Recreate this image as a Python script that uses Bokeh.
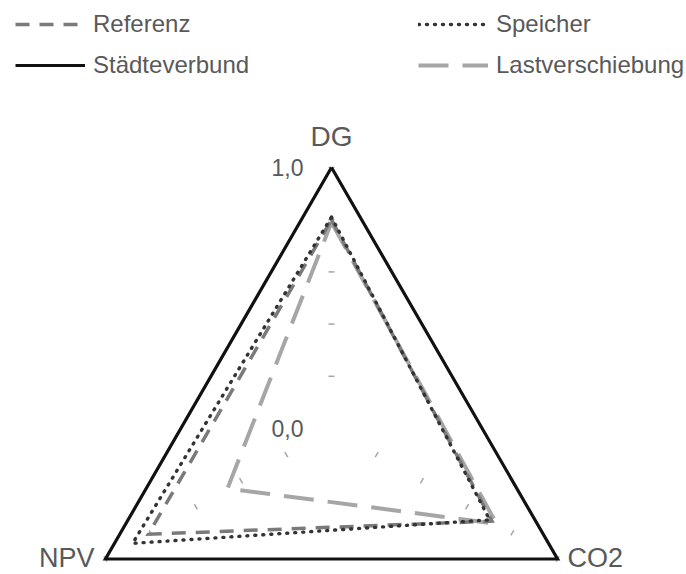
import numpy as np
from bokeh.plotting import figure
from bokeh.models import Range1d, Legend, LegendItem
from bokeh.core.properties import value
from bokeh.embed import file_html
from bokeh.resources import INLINE

# ---- data ----
axes_labels = ["DG", "CO2", "NPV"]
axes_angles_deg = [90, -30, 210]
referenz = [0.80, 0.71, 0.81]
speicher = [0.81, 0.70, 0.88]
staedteverbund = [1.0, 1.0, 1.0]
lastverschiebung = [0.79, 0.73, 0.46]
tick_values = [0.2, 0.4, 0.6, 0.8, 1.0]
tick_labels = {"1,0": 1.0, "0,0": 0.0}

FONT = "Liberation Sans"
TXT = "#595959"

W, H = 686, 574
scale = 261.0
cx, cy = 331.0, 428.0  # centre in frame pixels

p = figure(width=W, height=H, output_backend="svg", toolbar_location=None,
           x_range=Range1d(-cx / scale, (W - cx) / scale),
           y_range=Range1d(-(H - cy) / scale, cy / scale),
           min_border=0)
p.axis.visible = False
p.grid.visible = False
p.outline_line_color = None
p.background_fill_color = None
p.border_fill_color = "white"

ang = np.radians(np.array(axes_angles_deg, dtype=float))


def poly(vals):
    v = np.array(vals, dtype=float)
    xs = list(v * np.cos(ang)) + [v[0] * np.cos(ang[0])]
    ys = list(v * np.sin(ang)) + [v[0] * np.sin(ang[0])]
    return xs, ys


# tick marks (short, perpendicular to each axis)
tl = 3.0 / scale
x0s, y0s, x1s, y1s = [], [], [], []
for a in ang:
    for t in tick_values:
        px, py = t * np.cos(a), t * np.sin(a)
        nx, ny = -np.sin(a), np.cos(a)
        x0s.append(px - tl * nx); y0s.append(py - tl * ny)
        x1s.append(px + tl * nx); y1s.append(py + tl * ny)
p.segment(x0s, y0s, x1s, y1s, line_color="#a6a6a6", line_width=1.5)

xs, ys = poly(staedteverbund)
r_st = p.line(xs, ys, line_color="#111111", line_width=3.2, line_join="miter")
xs, ys = poly(lastverschiebung)
r_la = p.line(xs, ys, line_color="#a6a6a6", line_width=4, line_dash="30 14", line_join="miter")
xs, ys = poly(referenz)
r_re = p.line(xs, ys, line_color="#7a7a7a", line_width=3.5, line_dash="14 10", line_join="miter")
xs, ys = poly(speicher)
r_sp = p.line(xs, ys, line_color="#333333", line_width=3.4, line_dash="1 7", line_cap="round",
              line_join="round")

# axis labels
lab_x = list(np.cos(ang))
lab_y = list(np.sin(ang))
p.text([lab_x[0]], [lab_y[0]], text=[axes_labels[0]], text_align="center", text_baseline="middle",
       y_offset=-31, text_font=value(FONT), text_font_size="28px", text_color=TXT)
p.text([lab_x[1]], [lab_y[1]], text=[axes_labels[1]], text_align="left", text_baseline="middle",
       x_offset=10, y_offset=-1, text_font=value(FONT), text_font_size="27px", text_color=TXT)
p.text([lab_x[2]], [lab_y[2]], text=[axes_labels[2]], text_align="right", text_baseline="middle",
       x_offset=-11, y_offset=-1, text_font=value(FONT), text_font_size="27px", text_color=TXT)

# scale labels on DG axis
for lbl, v in tick_labels.items():
    p.text([v * np.cos(ang[0])], [v * np.sin(ang[0])], text=[lbl], text_align="right",
           text_baseline="middle", x_offset=-28, y_offset=0,
           text_font=value(FONT), text_font_size="23px", text_color=TXT)

common = dict(label_text_font=FONT, label_text_font_size="24px", label_text_color=TXT,
              glyph_width=70, glyph_height=28, label_height=28, label_standoff=8,
              spacing=13, padding=0, margin=0, border_line_alpha=0,
              background_fill_alpha=0)
leg1 = Legend(items=[LegendItem(label="Referenz", renderers=[r_re]),
                     LegendItem(label="Städteverbund", renderers=[r_st])],
              location=(15, 495), **common)
leg2 = Legend(items=[LegendItem(label="Speicher", renderers=[r_sp]),
                     LegendItem(label="Lastverschiebung", renderers=[r_la])],
              location=(418, 495), **common)
p.add_layout(leg1, "center")
p.add_layout(leg2, "center")

open("out.html", "w").write(file_html(p, INLINE))
